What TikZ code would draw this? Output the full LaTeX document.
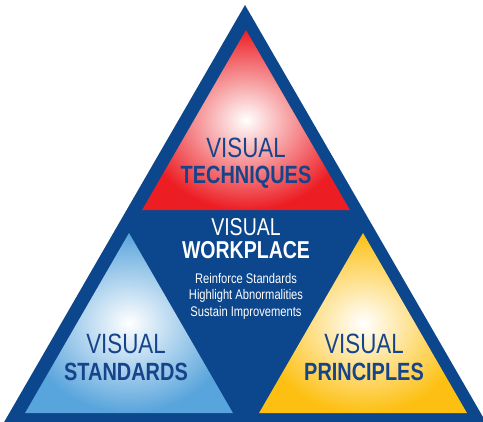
\documentclass[tikz,border=0pt]{standalone}
\usepackage{fontspec}
\setmainfont[FakeStretch=0.8]{Liberation Sans}
\usepackage{tikz}

\definecolor{frameblue}{RGB}{12,70,140}
\definecolor{labelblue}{RGB}{22,68,138}
\definecolor{techred}{RGB}{236,30,36}
\definecolor{stdblue}{RGB}{88,164,220}
\definecolor{prinyellow}{RGB}{253,192,18}

\begin{document}
\begin{tikzpicture}[
        x=1bp, y=-1bp,
        lightword/.style={anchor=base, inner sep=0pt, text=labelblue, font=\fontsize{28}{28}\selectfont},
        boldword/.style={anchor=base, inner sep=0pt, text=labelblue, font=\bfseries\fontsize{25}{25}\selectfont},
        notes/.style={anchor=base, inner sep=0pt, text=white, align=center, font=\fontsize{14}{16.5}\selectfont}
    ]

    \useasboundingbox (0,0) rectangle (483,421);
    \clip (0,0) rectangle (483,421);

    %=== Outer frame ===%
    \fill[frameblue] (245,5) -- (3,424) -- (487,424) -- cycle;

    %=== Macro for the three corner triangles ===%
    % #1 = apex x
    % #2 = apex y
    % #3 = base width
    % #4 = edge colour
    \newcommand{\pyramid}[4]{
        \pgfmathsetmacro{\h}{#3*0.866}
        \shade[inner color=white, outer color=#4]
            (#1,#2) -- ++({-#3/2},\h) -- ++(#3,0) -- cycle;
    }

    \pyramid{246}{30}{208}{techred}
    \pyramid{129}{233}{208}{stdblue}
    \pyramid{363}{233}{208}{prinyellow}

    % Top: techniques
    \node[lightword] (techA) at (246,157) {VISUAL};
    \node[boldword] (techB) at (246,183) {TECHNIQUES};

    % Centre: workplace (base of a multi-line node is its last line)
    \node[lightword, text=white, font=\fontsize{24.5}{24.5}\selectfont] (workA) at (246,235) {VISUAL};
    \node[boldword, text=white, font=\bfseries\fontsize{24.5}{24.5}\selectfont] (workB) at (246,258) {WORKPLACE};
    \node[notes] (workC) at (246,316) {Reinforce Standards\\Highlight Abnormalities\\Sustain Improvements};

    % Bottom left: standards
    \node[lightword] (stdA) at (126,353) {VISUAL};
    \node[boldword] (stdB) at (126,380) {STANDARDS};

    % Bottom right: principles
    \node[lightword] (prinA) at (364,353) {VISUAL};
    \node[boldword] (prinB) at (364,380) {PRINCIPLES};

\end{tikzpicture}
\end{document}
